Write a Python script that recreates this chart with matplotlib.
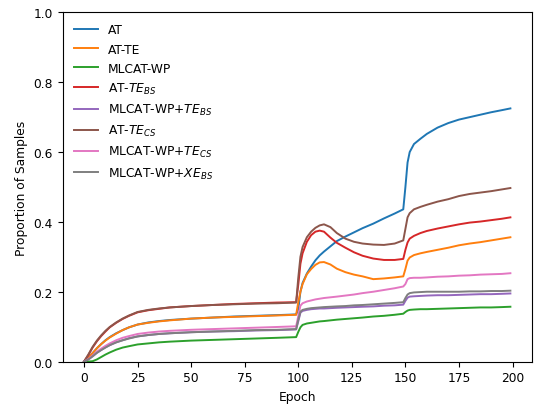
import matplotlib
matplotlib.use('Agg')
import matplotlib.pyplot as plt

epochs = [0, 2, 4, 6, 8, 10, 12, 15, 18, 21, 25, 30, 35, 40, 50, 60, 70, 80, 90, 99,
          100, 101, 102, 104, 106, 108, 110, 112, 115, 118, 122, 126, 130, 135, 140, 145, 149,
          150, 151, 152, 154, 157, 160, 165, 170, 175, 180, 185, 190, 195, 199]

at = [0, 0.01, 0.024, 0.038, 0.05, 0.061, 0.07, 0.081, 0.09, 0.098, 0.106, 0.112, 0.116, 0.119, 0.123, 0.126, 0.129, 0.131, 0.133, 0.135,
      0.15, 0.2, 0.225, 0.252, 0.272, 0.29, 0.304, 0.315, 0.33, 0.345, 0.358, 0.37, 0.382, 0.395, 0.41, 0.424, 0.436,
      0.5, 0.57, 0.6, 0.623, 0.638, 0.652, 0.67, 0.683, 0.693, 0.70, 0.707, 0.714, 0.72, 0.725]

at_te = [0, 0.01, 0.024, 0.038, 0.05, 0.06, 0.069, 0.08, 0.09, 0.098, 0.106, 0.111, 0.115, 0.118, 0.123, 0.126, 0.128, 0.13, 0.132, 0.134,
         0.17, 0.2, 0.222, 0.25, 0.265, 0.277, 0.284, 0.285, 0.278, 0.266, 0.256, 0.249, 0.244, 0.236, 0.238, 0.241, 0.244,
         0.265, 0.289, 0.298, 0.305, 0.31, 0.314, 0.32, 0.326, 0.333, 0.338, 0.342, 0.347, 0.352, 0.356]

mlcat_wp = [0, 0, 0.001, 0.006, 0.013, 0.02, 0.026, 0.034, 0.04, 0.044, 0.049, 0.052, 0.055, 0.057, 0.06, 0.062, 0.064, 0.066, 0.068, 0.070,
            0.085, 0.098, 0.105, 0.109, 0.111, 0.113, 0.115, 0.116, 0.118, 0.12, 0.122, 0.124, 0.126, 0.129, 0.131, 0.134, 0.137,
            0.142, 0.146, 0.148, 0.149, 0.15, 0.15, 0.151, 0.152, 0.153, 0.154, 0.155, 0.155, 0.156, 0.157]

at_te_bs = [0, 0.018, 0.04, 0.058, 0.073, 0.086, 0.098, 0.111, 0.122, 0.131, 0.141, 0.147, 0.151, 0.155, 0.159, 0.162, 0.165, 0.167, 0.169, 0.170,
            0.22, 0.28, 0.31, 0.343, 0.362, 0.372, 0.375, 0.372, 0.355, 0.34, 0.326, 0.313, 0.303, 0.295, 0.291, 0.291, 0.294,
            0.32, 0.341, 0.352, 0.36, 0.368, 0.374, 0.381, 0.387, 0.393, 0.398, 0.401, 0.405, 0.409, 0.413]

mlcat_te_bs = [0, 0.006, 0.015, 0.025, 0.033, 0.041, 0.047, 0.055, 0.061, 0.067, 0.072, 0.076, 0.079, 0.081, 0.084, 0.086, 0.087, 0.089, 0.09, 0.092,
               0.115, 0.14, 0.145, 0.148, 0.15, 0.151, 0.152, 0.152, 0.153, 0.154, 0.155, 0.156, 0.157, 0.158, 0.16, 0.161, 0.163,
               0.174, 0.183, 0.186, 0.187, 0.188, 0.189, 0.19, 0.19, 0.191, 0.192, 0.193, 0.193, 0.194, 0.195]

at_te_cs = [0, 0.02, 0.042, 0.06, 0.075, 0.088, 0.099, 0.112, 0.123, 0.132, 0.142, 0.148, 0.152, 0.155, 0.159, 0.162, 0.164, 0.166, 0.167, 0.169,
            0.24, 0.3, 0.328, 0.356, 0.372, 0.383, 0.39, 0.393, 0.385, 0.368, 0.352, 0.343, 0.338, 0.335, 0.334, 0.338, 0.347,
            0.38, 0.413, 0.425, 0.436, 0.443, 0.449, 0.458, 0.465, 0.474, 0.48, 0.484, 0.488, 0.493, 0.497]

mlcat_te_cs = [0, 0.007, 0.017, 0.028, 0.037, 0.045, 0.052, 0.061, 0.068, 0.073, 0.079, 0.083, 0.086, 0.088, 0.091, 0.093, 0.095, 0.097, 0.099, 0.101,
               0.13, 0.16, 0.167, 0.172, 0.175, 0.178, 0.18, 0.182, 0.184, 0.186, 0.189, 0.192, 0.196, 0.2, 0.205, 0.21, 0.215,
               0.222, 0.236, 0.239, 0.24, 0.24, 0.241, 0.243, 0.244, 0.246, 0.247, 0.249, 0.25, 0.251, 0.253]

mlcat_xe_bs = [0, 0.006, 0.015, 0.025, 0.033, 0.04, 0.047, 0.055, 0.061, 0.066, 0.072, 0.076, 0.079, 0.081, 0.084, 0.086, 0.088, 0.09, 0.091, 0.093,
               0.12, 0.143, 0.148, 0.151, 0.153, 0.154, 0.155, 0.156, 0.157, 0.158, 0.159, 0.161, 0.162, 0.164, 0.166, 0.168, 0.17,
               0.182, 0.192, 0.196, 0.198, 0.199, 0.2, 0.2, 0.2, 0.2, 0.201, 0.201, 0.202, 0.202, 0.203]

series = [
    (at, "AT"),
    (at_te, "AT-TE"),
    (mlcat_wp, "MLCAT-WP"),
    (at_te_bs, "AT-$TE_{BS}$"),
    (mlcat_te_bs, "MLCAT-WP+$TE_{BS}$"),
    (at_te_cs, "AT-$TE_{CS}$"),
    (mlcat_te_cs, "MLCAT-WP+$TE_{CS}$"),
    (mlcat_xe_bs, "MLCAT-WP+$XE_{BS}$"),
]

plt.rc('font', size=8.8)

fig = plt.figure(figsize=(5.36, 4.06), dpi=100)
ax = fig.add_axes([0.117, 0.107, 0.875, 0.860])

for vals, name in series:
    ax.plot(epochs, vals, lw=1.4, label=name)

ax.set_ylim(0, 1.0)
ax.set_xlabel('Epoch')
ax.set_ylabel('Proportion of Samples')
ax.legend(loc='upper left', frameon=False)

fig.savefig('out.png', dpi=100)
